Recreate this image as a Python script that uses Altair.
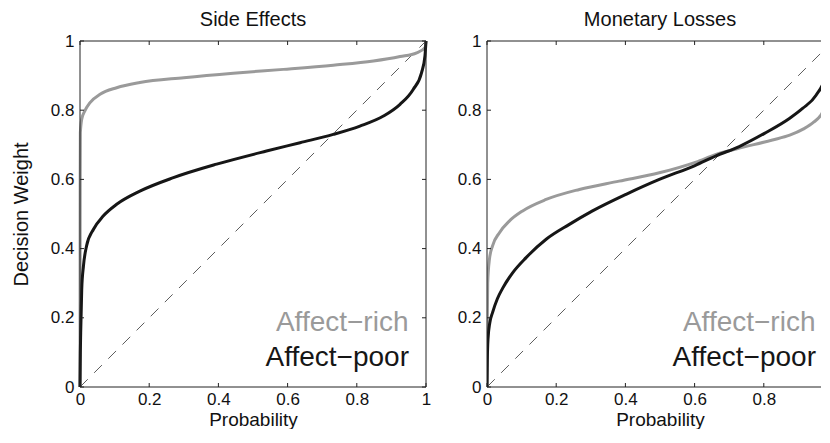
import altair as alt
import pandas as pd

# ---- data ----
panel_titles = ["Side Effects", "Monetary Losses"]
series_labels = ["Affect\u2212rich", "Affect\u2212poor"]
tick_values = [0, 0.2, 0.4, 0.6, 0.8, 1]
diag_x = [0, 1]
diag_y = [0, 1]

left_rich_x = [0, 0.0005, 0.001, 0.005, 0.014, 0.029, 0.058, 0.106, 0.173, 0.3, 0.443, 0.588, 0.732, 0.848, 0.925, 0.973, 0.997, 1]
left_rich_y = [0, 0.6, 0.735, 0.774, 0.798, 0.822, 0.846, 0.865, 0.880, 0.894, 0.907, 0.918, 0.930, 0.942, 0.955, 0.966, 0.981, 1]

left_poor_x = [0, 0.001, 0.002, 0.005, 0.01, 0.019, 0.039, 0.067, 0.106, 0.173, 0.27, 0.395, 0.539, 0.636, 0.732, 0.809, 0.877, 0.925, 0.963, 0.987, 0.997, 1]
left_poor_y = [0, 0.1, 0.157, 0.282, 0.35, 0.408, 0.456, 0.494, 0.528, 0.566, 0.605, 0.644, 0.682, 0.706, 0.730, 0.754, 0.783, 0.817, 0.86, 0.908, 0.957, 1]

right_rich_x = [0, 0.001, 0.002, 0.007, 0.016, 0.036, 0.065, 0.103, 0.171, 0.267, 0.382, 0.498, 0.604, 0.662, 0.72, 0.825, 0.875, 0.915, 0.945, 0.965, 0.978, 0.989, 1]
right_rich_y = [0, 0.2, 0.3, 0.369, 0.408, 0.446, 0.48, 0.509, 0.542, 0.571, 0.595, 0.619, 0.650, 0.672, 0.688, 0.714, 0.728, 0.746, 0.766, 0.786, 0.81, 0.845, 1]

right_poor_x = [0, 0.001, 0.003, 0.008, 0.016, 0.03, 0.045, 0.074, 0.113, 0.171, 0.238, 0.305, 0.402, 0.498, 0.601, 0.662, 0.729, 0.802, 0.874, 0.912, 0.951, 0.984, 1]
right_poor_y = [0, 0.08, 0.14, 0.185, 0.215, 0.255, 0.285, 0.33, 0.374, 0.427, 0.47, 0.509, 0.557, 0.6, 0.64, 0.668, 0.695, 0.733, 0.776, 0.805, 0.843, 0.915, 1]

# ---- styling / layout ----
W = 346          # full panel width (plot area)
W_RIGHT = 334    # right panel is cut off by the picture's edge
H = 346
right_visible_max = W_RIGHT / W
GRAY = "#9a9a9a"
BLACK = "#161616"
FRAME = "#222222"
TL = 4  # inward tick length
FONT = "Liberation Sans"


def make_panel(title, rx, ry, px, py, ytitle, width, xmax, full_frame):
    xscale = alt.Scale(domain=[0, xmax], nice=False, zero=False)
    yscale = alt.Scale(domain=[0, 1], nice=False, zero=False)
    xticks = [t for t in tick_values if t <= xmax]

    xaxis = alt.Axis(values=xticks, format="~g", ticks=False, domain=False, grid=False,
                     labelFlush=False, labelOverlap=False, labelPadding=4,
                     title="Probability", titlePadding=3, titleFontSize=19, titleX=W / 2)
    if ytitle:
        yaxis = alt.Axis(values=tick_values, format="~g", ticks=False, domain=False, grid=False,
                         labelFlush=False, labelOverlap=False, labelPadding=6,
                         title=ytitle, titlePadding=19)
    else:
        yaxis = alt.Axis(values=tick_values, format="~g", ticks=False, domain=False, grid=False,
                         labelFlush=False, labelOverlap=False, labelPadding=6, title=None)

    diag = alt.Chart(pd.DataFrame({"x": diag_x, "y": diag_y})).mark_line(
        color="#333333", strokeWidth=0.8, strokeDash=[11, 9], clip=True
    ).encode(x=alt.X("x:Q", scale=xscale, axis=xaxis), y=alt.Y("y:Q", scale=yscale, axis=yaxis))

    rich = alt.Chart(pd.DataFrame({"x": rx, "y": ry})).mark_line(
        color=GRAY, strokeWidth=3, interpolate="monotone", clip=not full_frame
    ).encode(x=alt.X("x:Q", scale=xscale), y=alt.Y("y:Q", scale=yscale))

    poor = alt.Chart(pd.DataFrame({"x": px, "y": py})).mark_line(
        color=BLACK, strokeWidth=3, interpolate="monotone", clip=not full_frame
    ).encode(x=alt.X("x:Q", scale=xscale), y=alt.Y("y:Q", scale=yscale))

    one = pd.DataFrame({"a": [0]})
    frame_layers = [
        alt.Chart(one).mark_rule(color=FRAME, strokeWidth=1).encode(
            x=alt.value(0), x2=alt.value(width), y=alt.value(0)),
        alt.Chart(one).mark_rule(color=FRAME, strokeWidth=1).encode(
            x=alt.value(0), x2=alt.value(width), y=alt.value(H)),
        alt.Chart(one).mark_rule(color=FRAME, strokeWidth=1).encode(
            x=alt.value(0), y=alt.value(0), y2=alt.value(H)),
    ]
    if full_frame:
        frame_layers.append(alt.Chart(one).mark_rule(color=FRAME, strokeWidth=1).encode(
            x=alt.value(width), y=alt.value(0), y2=alt.value(H)))

    xt = pd.DataFrame({"t": xticks})
    yt = pd.DataFrame({"t": tick_values})
    tick_layers = [
        alt.Chart(xt).mark_rule(color=FRAME, strokeWidth=1).encode(
            x=alt.X("t:Q", scale=xscale), y=alt.value(H), y2=alt.value(H - TL)),
        alt.Chart(xt).mark_rule(color=FRAME, strokeWidth=1).encode(
            x=alt.X("t:Q", scale=xscale), y=alt.value(0), y2=alt.value(TL)),
        alt.Chart(yt).mark_rule(color=FRAME, strokeWidth=1).encode(
            y=alt.Y("t:Q", scale=yscale), x=alt.value(0), x2=alt.value(TL)),
    ]
    if full_frame:
        tick_layers.append(alt.Chart(yt).mark_rule(color=FRAME, strokeWidth=1).encode(
            y=alt.Y("t:Q", scale=yscale), x=alt.value(width), x2=alt.value(width - TL)))

    ldf = pd.DataFrame({"label": series_labels})
    t_rich = alt.Chart(ldf.iloc[[0]]).mark_text(
        align="right", baseline="alphabetic", fontSize=28, color=GRAY, font=FONT
    ).encode(text="label:N", x=alt.value(328.5), y=alt.value(290))
    t_poor = alt.Chart(ldf.iloc[[1]]).mark_text(
        align="right", baseline="alphabetic", fontSize=28, color=BLACK, font=FONT
    ).encode(text="label:N", x=alt.value(329), y=alt.value(325))

    return alt.layer(diag, rich, poor, *frame_layers, *tick_layers, t_rich, t_poor).properties(
        width=width, height=H,
        title=alt.TitleParams(title, fontSize=20, fontWeight="normal", offset=2,
                              frame="group", color="#111111", font=FONT,
                              dx=(W - width) / 2),
    )


left = make_panel(panel_titles[0], left_rich_x, left_rich_y, left_poor_x, left_poor_y,
                  "Decision Weight", W, 1, True)
right = make_panel(panel_titles[1], right_rich_x, right_rich_y, right_poor_x, right_poor_y,
                   None, W_RIGHT, right_visible_max, False)

chart = alt.hconcat(left, right, spacing=61, bounds="flush").properties(
    padding={"left": 3, "top": 2, "right": 0, "bottom": 0}
).configure(font=FONT).configure_view(
    strokeWidth=0
).configure_axis(
    labelFontSize=17, labelColor="#111111", titleFontSize=20, titleFontWeight="normal",
    titleColor="#111111", labelFont=FONT, titleFont=FONT
)

chart.save("out.html", embed_options={"renderer": "svg", "actions": False})
